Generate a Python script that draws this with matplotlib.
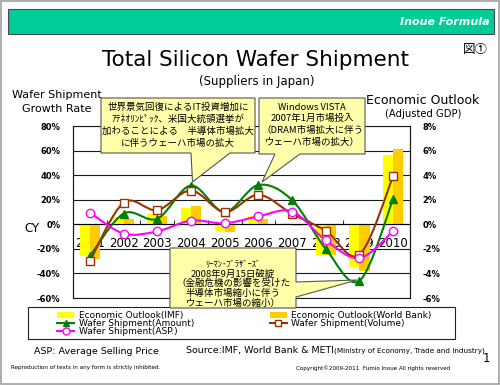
import numpy as np
import matplotlib

matplotlib.use('Agg')
import matplotlib.pyplot as plt
from matplotlib.patches import Rectangle, Polygon, PathPatch, Patch
from matplotlib.path import Path
from matplotlib.lines import Line2D

plt.rcParams['font.family'] = ['DejaVu Sans', 'Noto Sans CJK JP']

# data
years = ['2001', '2002', '2003', '2004', '2005', '2006', '2007', '2008', '2009', '2010']
gdp_imf = [-2.6, 0.6, 0.8, 1.3, -0.55, 0.65, 0.1, -2.5, -3.5, 5.6]
gdp_wb = [-2.8, 0.4, 0.7, 1.45, -0.6, 0.4, -0.1, -2.5, -3.8, 6.1]
wafer_amount = [-26, 8.7, 4.5, 31.5, 10, 32, 19.7, -20, -46, 20.5]
wafer_volume = [-30, 17.5, 11.5, 27.5, 10, 24, 8.5, -5.3, -24.7, 39]
wafer_asp = [9.5, -7.5, -5.8, 3, 0.8, 6.4, 10.4, -13, -27.5, -5.6]

W, H = 500, 385
JP = 'Noto Sans CJK JP'


def px(x, y):
    # reference pixel position -> figure fraction
    return x / W, 1 - y / H


def smooth_path(xs, ys):
    # bezier through the points, like the spreadsheet "smoothed line"
    pts = np.column_stack([xs, ys]).astype(float)
    n = len(pts)
    verts = [pts[0]]
    codes = [Path.MOVETO]
    for i in range(n - 1):
        p0 = pts[i - 1] if i > 0 else pts[i]
        p1, p2 = pts[i], pts[i + 1]
        p3 = pts[i + 2] if i + 2 < n else pts[i + 1]
        verts += [p1 + (p2 - p0) / 6, p2 - (p3 - p1) / 6, p2]
        codes += [Path.CURVE4] * 3
    return Path(verts, codes)


fig = plt.figure(figsize=(W / 100, H / 100), dpi=100)

# outer frame and banner
fig.patches.append(Rectangle((0.002, 0.003), 0.996, 0.994, transform=fig.transFigure,
                             fill=False, ec='#a0a0a0', lw=1.2))
x0, y0 = px(8, 34)
fig.patches.append(Rectangle((x0, y0), 486 / W, 25 / H, transform=fig.transFigure,
                             fc='#00cc99', ec='#4a4a4a', lw=0.8))
fig.text(*px(490, 22), 'Inoue Formula', color='white', fontsize=8, fontweight='bold',
         fontstyle='italic', ha='right', va='center')

fig.text(*px(255, 60), 'Total Silicon Wafer Shipment', fontsize=15.5, ha='center', va='center')
fig.text(*px(257, 82), '(Suppliers in Japan)', fontsize=8.5, ha='center', va='center')
fig.text(*px(475, 49), '図①', fontsize=9, ha='center', va='center', family=[JP])

fig.text(*px(57, 95), 'Wafer Shipment', fontsize=8, ha='center', va='center')
fig.text(*px(57, 109), 'Growth Rate', fontsize=8, ha='center', va='center')
fig.text(*px(423, 100), 'Economic Outlook', fontsize=9, ha='center', va='center')
fig.text(*px(423, 114), '(Adjusted GDP)', fontsize=7.2, ha='center', va='center')
fig.text(*px(32, 228), 'CY', fontsize=8.5, ha='center', va='center')

# plot area: ax = bars (right scale), ax2 = lines (left scale)
ax = fig.add_axes([73 / W, 1 - 298 / H, 337 / W, 172 / H])
ax2 = ax.twinx()
x = np.arange(len(years))
bw = 0.3

ax.bar(x - bw / 2, gdp_imf, bw, color='#ffff00', zorder=1)
ax.bar(x + bw / 2, gdp_wb, bw, color='#ffcc00', zorder=1)
ax.set_xlim(-0.5, len(years) - 0.5)
ax.set_ylim(-6, 8)
ax.set_yticks(range(-6, 9, 2))
ax.set_yticklabels([f'{v}%' for v in range(-6, 9, 2)])
ax.yaxis.tick_right()
ax.grid(axis='y', color='#1a1a1a', lw=0.8)
ax.set_axisbelow(True)
ax.spines['bottom'].set_position(('data', 0))
ax.spines['top'].set_visible(False)
ax.set_xticks(x)
ax.set_xticklabels(years, fontsize=8.5)
ax.set_xticks(x[:-1] + 0.5, minor=True)
ax.tick_params(axis='x', which='major', length=0, pad=9)
ax.tick_params(axis='x', which='minor', direction='in', length=3, width=0.8, color='#333')
ax.tick_params(axis='y', length=0, pad=9, labelsize=6)
for t in ax.get_yticklabels():
    t.set_fontweight('bold')

ax2.set_ylim(-60, 80)
ax2.set_yticks(range(-60, 81, 20))
ax2.set_yticklabels([f'{v}%' for v in range(-60, 81, 20)])
ax2.yaxis.set_ticks_position('left')
ax2.yaxis.set_label_position('left')
ax2.tick_params(axis='y', length=0, pad=9, labelsize=6)
for t in ax2.get_yticklabels():
    t.set_fontweight('bold')
for s in ax2.spines.values():
    s.set_color('#1a1a1a')
    s.set_linewidth(0.8)

series = [
    (wafer_amount, '#008000', dict(marker='^', mfc='#008000', mec='#008000', ms=6)),
    (wafer_volume, '#993300', dict(marker='s', mfc='white', mec='#993300', ms=6)),
    (wafer_asp, '#ff00ff', dict(marker='o', mfc='white', mec='#ff00ff', ms=6)),
]
for vals, col, mk in series:
    ax2.add_patch(PathPatch(smooth_path(x, vals), fill=False, ec=col, lw=1.5))
    ax2.plot(x, vals, ls='none', mew=1, **mk)


# callouts (pixel outlines of the reference)
def callout(verts, lines, cx, ys, fs):
    fig.patches.append(Polygon([px(a, b) for a, b in verts], closed=True, transform=fig.transFigure,
                               fc='#ffffaa', ec='#555555', lw=0.8, zorder=5))
    for txt, yy, f in zip(lines, ys, fs):
        fig.text(*px(cx, yy), txt, fontsize=f, ha='center', va='center', family=[JP], zorder=6)


callout([(101, 98), (255, 98), (255, 153), (230, 153), (192.5, 182), (191, 153), (101, 153)],
        ['世界景気回復によるIT投資増加に', 'ｱﾃﾈｵﾘﾝﾋﾟｯｸ、米国大統領選挙が',
         '加わることによる　半導体市場拡大', 'に伴うウェーハ市場の拡大'],
        178, [107, 119, 131, 143], [6.8] * 4)
callout([(259, 98), (365, 98), (365, 154), (300, 154), (262, 182), (275, 154), (259, 154)],
        ['Windows VISTA', '2007年1月市場投入', '（DRAM市場拡大に伴う', 'ウェーハ市場の拡大）'],
        312, [107, 118, 130, 142], [6.8] * 4)
callout([(170, 248), (296, 248), (296, 282), (357, 280), (296, 297), (296, 308), (170, 308)],
        ['ﾘｰﾏﾝ･ﾌﾞﾗｻﾞｰｽﾞ', '2008年9月15日破綻', '（金融危機の影響を受けた',
         '半導体市場縮小に伴う', 'ウェーハ市場の縮小）'],
        233, [264, 274, 283, 293, 303], [6.2, 6.8, 6.8, 6.8, 6.8])

# legend
x0, y0 = px(28, 339)
fig.patches.append(Rectangle((x0, y0), 427 / W, 32 / H, transform=fig.transFigure,
                             fill=False, ec='#222222', lw=0.8))
handles = [
    Patch(fc='#ffff00', ec='none'),
    Line2D([], [], color='#008000', lw=1.5, marker='^', ms=5),
    Line2D([], [], color='#ff00ff', lw=1.5, marker='o', mfc='white', ms=5),
    Patch(fc='#ffcc00', ec='none'),
    Line2D([], [], color='#993300', lw=1.5, marker='s', mfc='white', ms=5),
]
labels = ['Economic Outlook(IMF)', 'Wafer Shipment(Amount)', 'Wafer Shipment(ASP.)',
          'Economic Outlook(World Bank)', 'Wafer Shipment(Volume)']
fig.legend(handles, labels, ncol=2, loc='upper left', bbox_to_anchor=px(51, 305), frameon=False,
           fontsize=6.5, handlelength=1.9, handletextpad=0.45, labelspacing=-0.12,
           columnspacing=8.4, handleheight=0.6, borderpad=0.2)

# footer
fig.text(*px(96, 352), 'ASP: Average Selling Price', fontsize=6.8, ha='center', va='center')
src = fig.text(*px(186, 351), 'Source:IMF, World Bank & METI', fontsize=6.8, ha='left', va='center')
fig.canvas.draw()
bb = src.get_window_extent()
fig.text(bb.x1 / W, 1 - 351 / H, '(Ministry of Economy, Trade and Industry)', fontsize=5.2,
         ha='left', va='center')
fig.text(*px(486, 359), '1', fontsize=8.5, ha='center', va='center')
fig.text(*px(11, 368), 'Reproduction of texts in any form is strictly inhibited.', fontsize=4.1,
         ha='left', va='center')
fig.text(*px(296, 368), 'Copyright©2009-2011  Fumio Inoue All rights reserved', fontsize=4.1,
         ha='left', va='center')

fig.savefig('out.png', dpi=100)
